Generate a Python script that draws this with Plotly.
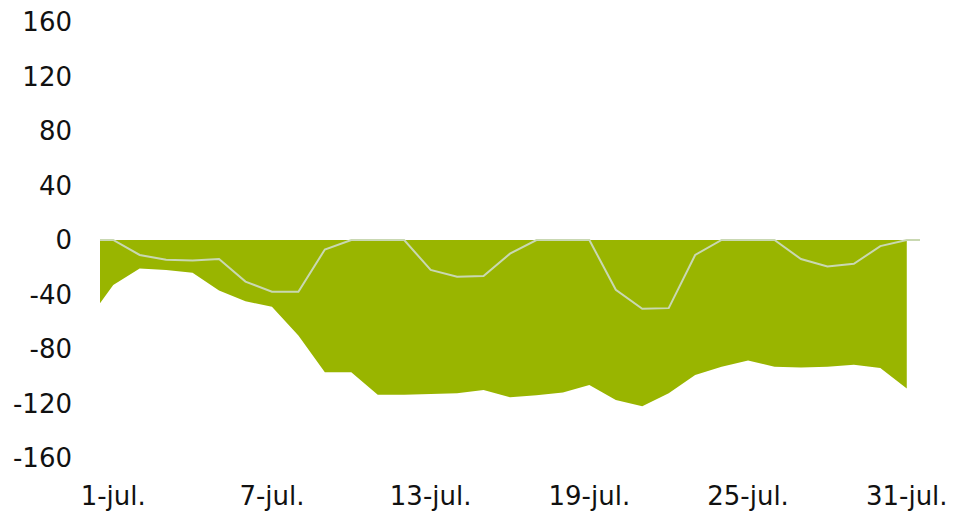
import plotly.graph_objects as go

# Day positions (half-day padding at each end, as in the source chart)
area_days = [0.5] + list(range(1, 32))
line_days = [0.5] + list(range(1, 32)) + [31.5]

area_values = [-46.5, -33, -21, -22, -24, -37, -45, -49, -70, -97, -97,
               -113.5, -113.5, -113, -112.5, -110, -115.5, -114, -112, -106.5, -117.5,
               -122, -112.5, -99, -93, -88.5, -93, -93.5, -93, -91.5, -94, -109]

line_values = [0, 0, -11, -14.5, -15, -14, -30.5, -38, -38, -7, 0,
               0, 0, -22, -27, -26.5, -10, 0, 0, 0, -36.5,
               -50.5, -50, -11, 0, 0, 0, -14, -19.5, -17.5, -4.5, 0, 0]

tick_days = [1, 7, 13, 19, 25, 31]
tick_labels = ["1-jul.", "7-jul.", "13-jul.", "19-jul.", "25-jul.", "31-jul."]
y_ticks = [-160, -120, -80, -40, 0, 40, 80, 120, 160]
y_labels = ["-160", "-120", "-80", "-40", "0", "40", "80", "120", "160"]

fig = go.Figure()

# Green filled area
fig.add_trace(
    go.Scatter(
        x=area_days,
        y=area_values,
        mode="lines",
        fill="tozeroy",
        fillcolor="#99b500",
        line=dict(color="#99b500", width=0),
        hoverinfo="skip",
    )
)

# Light line on top
fig.add_trace(
    go.Scatter(
        x=line_days,
        y=line_values,
        mode="lines",
        line=dict(color="#c9d8b2", width=2),
    )
)

# page has an 8px body margin, so the figure is shrunk by that and margins offset
fig.update_layout(
    width=949,
    height=503,
    showlegend=False,
    plot_bgcolor="white",
    paper_bgcolor="white",
    margin=dict(l=92, r=37, t=14, b=53),
    font=dict(family="DejaVu Sans, Verdana, sans-serif", size=26, color="#111111"),
    xaxis=dict(
        range=[0.5, 31.5],
        tickvals=tick_days,
        ticktext=tick_labels,
        showgrid=False,
        zeroline=False,
        showline=False,
        ticks="",
        ticklabelstandoff=20,
        ticklabeloverflow="allow",
        automargin=False,
    ),
    yaxis=dict(
        range=[-160, 160],
        tickvals=y_ticks,
        ticktext=y_labels,
        showgrid=False,
        zeroline=False,
        showline=False,
        ticks="",
        ticklabelstandoff=27,
        ticklabeloverflow="allow",
        automargin=False,
    ),
)

fig.write_html("out.html")
